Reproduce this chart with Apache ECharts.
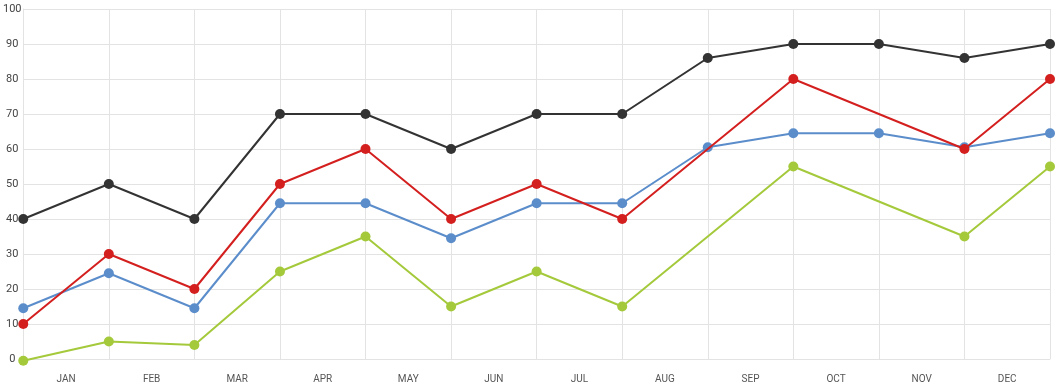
<!DOCTYPE html>
<html>
<head>
<meta charset="utf-8">
<script src="https://cdn.jsdelivr.net/npm/echarts@6/dist/echarts.min.js"></script>
<style>
html,body{margin:0;padding:0;background:#fff;}
#c{width:1060px;height:389px;}
</style>
</head>
<body>
<div id="c"></div>
<script>
const months = ['JAN','FEB','MAR','APR','MAY','JUN','JUL','AUG','SEP','OCT','NOV','DEC'];
const pointSlots = ['p01','p02','p03','p04','p05','p06','p07','p08','p09','p10','p11','p12','p13'];
const yTicks = [0,10,20,30,40,50,60,70,80,90,100];
const blackSeries = [40,50,40,70,70,60,70,70,86,90,90,86,90];
const redSeries   = [10,30,20,50,60,40,50,40,null,80,null,60,80];
const blueSeries  = [14.5,24.5,14.5,44.5,44.5,34.5,44.5,44.5,60.5,64.5,64.5,60.5,64.5];
const greenSeries = [-0.5,5,4,25,35,15,25,15,null,55,null,35,55];

const chart = echarts.init(document.getElementById('c'));
function mk(name, data, color, z){
  return {
    name, type:'line', data, xAxisIndex:0, yAxisIndex:0,
    connectNulls:true, clip:false, z,
    symbol:'circle', symbolSize:10, showSymbol:true,
    lineStyle:{color, width:2},
    itemStyle:{color},
    emphasis:{disabled:true}
  };
}
chart.setOption({
  animation:false,
  grid:{left:22, right:10, top:9, bottom:30, containLabel:false},
  xAxis:[
    {type:'category', data:pointSlots, boundaryGap:false,
     axisLine:{show:true, lineStyle:{color:'#e3e3e3'}},
     axisTick:{show:false}, axisLabel:{show:false},
     splitLine:{show:true, lineStyle:{color:'#e3e3e3', width:1}}},
    {type:'category', data:months, boundaryGap:true, position:'bottom',
     axisLine:{show:false}, axisTick:{show:false}, splitLine:{show:false},
     axisLabel:{color:'#555', fontSize:10, fontFamily:'Roboto', margin:15}}
  ],
  yAxis:{type:'value', min:yTicks[0], max:yTicks[yTicks.length-1], interval:10,
    axisLine:{show:true, lineStyle:{color:'#e3e3e3'}}, axisTick:{show:false},
    axisLabel:{color:'#444', fontSize:11, fontFamily:'Roboto', margin:11, align:'center'},
    splitLine:{show:true, lineStyle:{color:'#e3e3e3', width:1}}},
  series:[
    mk('Green', greenSeries, '#a4c93b', 2),
    mk('Blue', blueSeries, '#5b8dcb', 3),
    mk('Red', redSeries, '#d41f1f', 4),
    mk('Black', blackSeries, '#333333', 5)
  ]
});
</script>
</body>
</html>
